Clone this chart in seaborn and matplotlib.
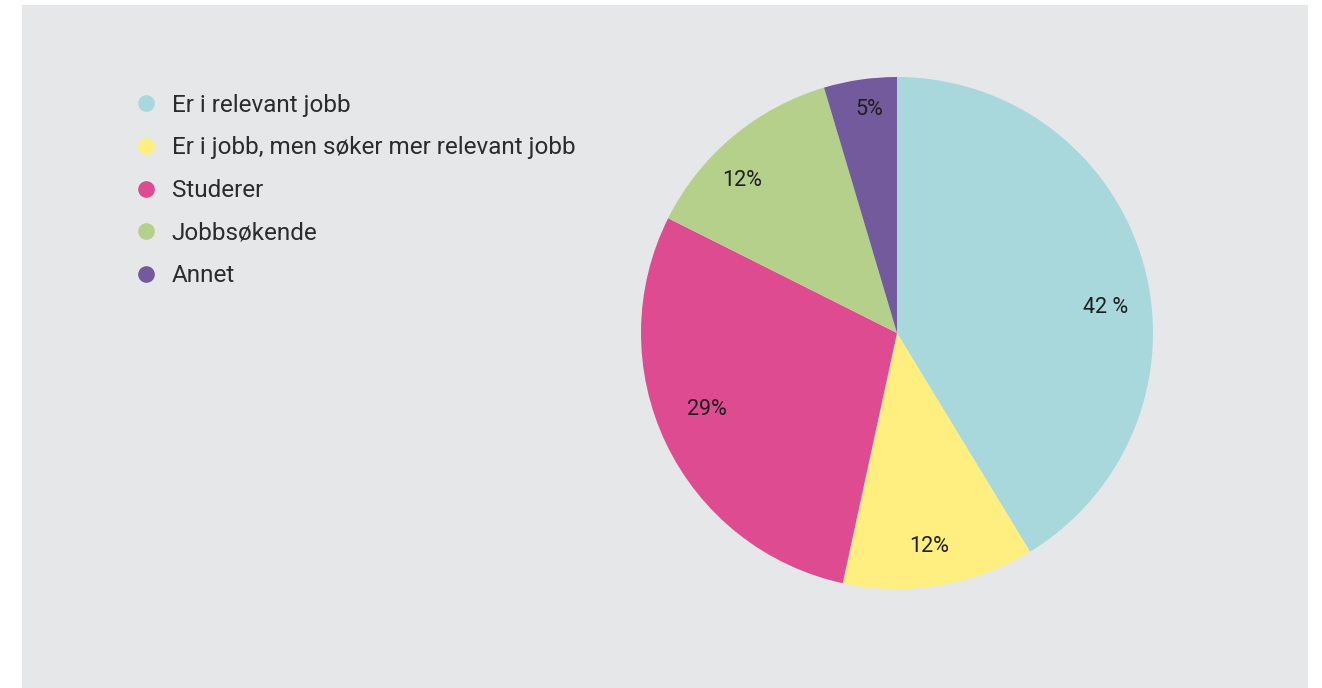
import matplotlib
matplotlib.use("Agg")
import matplotlib.pyplot as plt
from matplotlib.lines import Line2D
from matplotlib.patches import Rectangle
import numpy as np
import seaborn as sns

labels = ["Er i relevant jobb", "Er i jobb, men søker mer relevant jobb",
          "Studerer", "Jobbsøkende", "Annet"]
shares = [41.3, 12.1, 29.0, 13.0, 4.6]
pct_text = ["42 %", "12%", "29%", "12%", "5%"]
colors = ["#A8D8DC", "#FFEF80", "#DE4B91", "#B5D08B", "#735A9C"]

sns.set_style("white")
plt.rcParams["font.family"] = ["Roboto", "DejaVu Sans"]

W, H = 1322, 688
fig = plt.figure(figsize=(W / 100, H / 100), dpi=100, facecolor="white")

# grey panel
fig.patches.append(Rectangle((22 / W, 0), (1308 - 22) / W, (688 - 5) / H,
                             transform=fig.transFigure, facecolor="#E6E7E9",
                             edgecolor="none", zorder=-5))

# pie
cx, cy, r = 897, 333, 256
ax = fig.add_axes([(cx - r) / W, (H - cy - r) / H, 2 * r / W, 2 * r / H])
ax.set_facecolor("none")
ax.set_zorder(2)
pal = sns.color_palette(colors)
wedges, texts = ax.pie(shares, colors=pal, startangle=90, counterclock=False,
                       wedgeprops=dict(linewidth=0))
ax.set_xlim(-1, 1)
ax.set_ylim(-1, 1)
ax.axis("off")

# percentage labels (positions tuned per slice)
label_pos = [(0.82, 7), (0.845, -81.5), (0.80, -158), (0.85, 135.5), (0.88, 97)]
for txt, (d, ang) in zip(pct_text, label_pos):
    a = np.deg2rad(ang)
    ax.text(d * np.cos(a), d * np.sin(a), txt, ha="center", va="center",
            fontsize=15.5, color="#1e1e1e")

# legend
handles = [Line2D([], [], marker="o", linestyle="none", markersize=12,
                  markerfacecolor=c, markeredgecolor="none") for c in colors]
fig.legend(handles, labels, loc="upper left",
           bbox_to_anchor=(122 / W, 1 - 84 / H), frameon=False,
           fontsize=17.5, labelspacing=0.81, handletextpad=0.45,
           labelcolor="#2b2b2b", handlelength=1.2, borderaxespad=0)

fig.savefig("out.png", dpi=100, facecolor="white")
